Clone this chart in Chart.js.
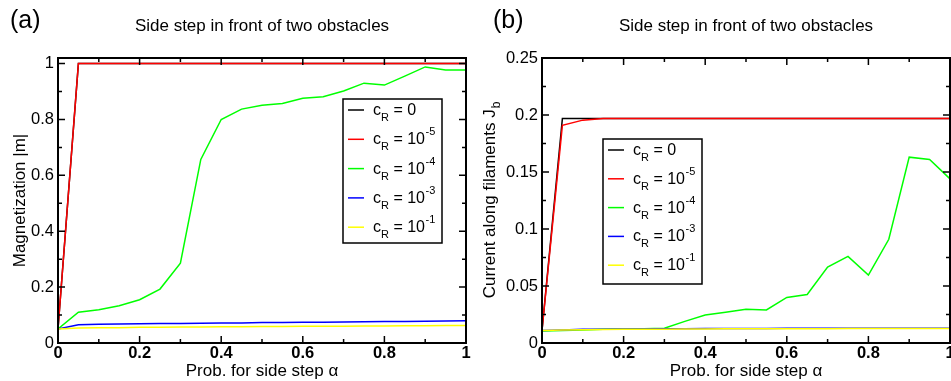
<!DOCTYPE html>
<html><head><meta charset="utf-8">
<script src="https://cdn.jsdelivr.net/npm/chart.js@4"></script>
<style>
html,body{margin:0;padding:0;background:#fff;overflow:hidden;width:951px;height:381px}
canvas{position:absolute;top:0}
</style></head><body>
<canvas id="ca" width="480" height="381" style="left:0"></canvas>
<canvas id="cb" width="480" height="381" style="left:480px"></canvas>
<script>
// ---------- data ----------
const alpha = [0,0.05,0.1,0.15,0.2,0.25,0.3,0.35,0.4,0.45,0.5,0.55,0.6,0.65,0.7,0.75,0.8,0.85,0.9,0.95,1];

// panel (a): magnetization |m|
const magC0  = [0.05,1,1,1,1,1,1,1,1,1,1,1,1,1,1,1,1,1,1,1,1];
const magC5  = [0.05,1,1,1,1,1,1,1,1,1,1,1,1,1,1,1,1,1,1,1,1];
const magC4  = [0.05,0.11,0.119,0.133,0.155,0.193,0.286,0.657,0.8,0.837,0.851,0.857,0.876,0.881,0.902,0.93,0.923,0.955,0.988,0.977,0.977];
const magC3  = [0.05,0.065,0.067,0.068,0.069,0.07,0.07,0.071,0.072,0.072,0.073,0.073,0.074,0.074,0.075,0.076,0.077,0.077,0.078,0.079,0.08];
const magC1  = [0.05,0.054,0.055,0.055,0.056,0.056,0.057,0.057,0.058,0.058,0.059,0.059,0.06,0.06,0.06,0.061,0.061,0.062,0.062,0.063,0.063];

// panel (b): current along filaments J_b
const curC0  = [0.011,0.197,0.197,0.197,0.197,0.197,0.197,0.197,0.197,0.197,0.197,0.197,0.197,0.197,0.197,0.197,0.197,0.197,0.197,0.197,0.197];
const curC5  = [0.011,0.191,0.1955,0.197,0.197,0.197,0.197,0.197,0.197,0.197,0.197,0.197,0.197,0.197,0.197,0.197,0.197,0.197,0.197,0.197,0.197];
const curC4  = [0.0105,0.011,0.0115,0.012,0.0122,0.0125,0.0129,0.019,0.0245,0.027,0.0295,0.029,0.04,0.0426,0.0666,0.076,0.0596,0.091,0.163,0.161,0.144];
const curC3  = [0.011,0.0115,0.012,0.012,0.0122,0.0123,0.0125,0.0125,0.0127,0.0127,0.0128,0.0128,0.0129,0.0129,0.013,0.013,0.013,0.013,0.013,0.013,0.013];
const curC1  = [0.011,0.0113,0.0116,0.0118,0.012,0.012,0.0121,0.0122,0.0123,0.0124,0.0124,0.0125,0.0125,0.0126,0.0126,0.0127,0.0127,0.0127,0.0128,0.0128,0.0128];

// legend labels: c_R = base^sup
const legendBase = ['0','10','10','10','10'];
const legendSup  = ['','-5','-4','-3','-1'];

// ticks
const xTickVals   = [0,0.2,0.4,0.6,0.8,1];
const xTickLabels = ['0','0.2','0.4','0.6','0.8','1'];
const xMinorVals  = [0.1,0.3,0.5,0.7,0.9];
const yTickValsA   = [0,0.2,0.4,0.6,0.8,1];
const yTickLabelsA = ['0','0.2','0.4','0.6','0.8','1'];
const yMinorValsA  = [0.1,0.3,0.5,0.7,0.9];
const yTickValsB   = [0,0.05,0.1,0.15,0.2,0.25];
const yTickLabelsB = ['0','0.05','0.1','0.15','0.2','0.25'];
const yMinorValsB  = [0.025,0.075,0.125,0.175,0.225];

// ---------- styling ----------
const FONT = '"Liberation Sans", Arial, Helvetica, sans-serif';
const colors = ['#000000','#ff0000','#00ff00','#0000ff','#ffff00'];

function mkDatasets(series) {
  return series.map((s, i) => ({
    data: alpha.map((x, j) => ({x, y: s[j]})),
    borderColor: colors[i],
    backgroundColor: colors[i],
    borderWidth: 1.5,
    pointRadius: 0,
    tension: 0,
    order: series.length - 1 - i
  }));
}

const decor = {
  id: 'decor',
  afterDraw(chart, args, o) {
    const ctx = chart.ctx, a = chart.chartArea;
    const xs = chart.scales.x, ys = chart.scales.y;
    ctx.save();
    // inward ticks on all four sides
    ctx.strokeStyle = '#000'; ctx.lineWidth = 1.5;
    const tx = (vals, len) => vals.forEach(v => {
      const p = xs.getPixelForValue(v);
      ctx.beginPath(); ctx.moveTo(p, a.bottom); ctx.lineTo(p, a.bottom - len);
      ctx.moveTo(p, a.top); ctx.lineTo(p, a.top + len); ctx.stroke();
    });
    const ty = (vals, len) => vals.forEach(v => {
      const p = ys.getPixelForValue(v);
      ctx.beginPath(); ctx.moveTo(a.left, p); ctx.lineTo(a.left + len, p);
      ctx.moveTo(a.right, p); ctx.lineTo(a.right - len, p); ctx.stroke();
    });
    tx(xTickVals, 7); tx(xMinorVals, 4);
    ty(o.yMajor, 7); ty(o.yMinor, 4);
    // frame
    ctx.lineWidth = 2;
    ctx.strokeRect(a.left, a.top, a.right - a.left, a.bottom - a.top);

    // panel letter
    ctx.fillStyle = '#000'; ctx.textBaseline = 'alphabetic'; ctx.textAlign = 'left';
    ctx.font = '25px ' + FONT;
    ctx.fillText(o.panel, o.panelX, 28);
    // title
    ctx.textAlign = 'center';
    ctx.font = '17px ' + FONT;
    const cx = (a.left + a.right) / 2;
    ctx.fillText('Side step in front of two obstacles', cx, 31);
    // x title
    ctx.fillText('Prob. for side step α', cx, 376);
    // y title (rotated, with optional subscript)
    const cy = (a.top + a.bottom) / 2;
    ctx.save();
    ctx.translate(o.yTitleX, cy);
    ctx.rotate(-Math.PI / 2);
    ctx.textAlign = 'left';
    ctx.font = '17px ' + FONT;
    const wMain = ctx.measureText(o.yTitle).width;
    let wSub = 0;
    if (o.yTitleSub) { ctx.font = '12px ' + FONT; wSub = ctx.measureText(o.yTitleSub).width; }
    let x0 = -(wMain + wSub) / 2;
    ctx.font = '17px ' + FONT;
    ctx.fillText(o.yTitle, x0, 0);
    if (o.yTitleSub) { ctx.font = '12px ' + FONT; ctx.fillText(o.yTitleSub, x0 + wMain + 1, 5); }
    ctx.restore();

    // legend
    const L = o.legend;
    ctx.fillStyle = '#fff'; ctx.fillRect(L.x, L.y, L.w, L.h);
    ctx.strokeStyle = '#000'; ctx.lineWidth = 1.5; ctx.strokeRect(L.x, L.y, L.w, L.h);
    chart.data.datasets.forEach((ds, i) => {
      const base = L.y + 16 + i * L.step;
      ctx.strokeStyle = ds.borderColor; ctx.lineWidth = 1.5;
      ctx.beginPath(); ctx.moveTo(L.x + 5, base - 5); ctx.lineTo(L.x + 21, base - 5); ctx.stroke();
      ctx.fillStyle = '#000'; ctx.textAlign = 'left'; ctx.textBaseline = 'alphabetic';
      let x = L.x + 30;
      ctx.font = '16px ' + FONT; ctx.fillText('c', x, base); x += ctx.measureText('c').width;
      ctx.font = '11px ' + FONT; ctx.fillText('R', x, base + 6); x += ctx.measureText('R').width;
      ctx.font = '16px ' + FONT; const t = ' = ' + legendBase[i]; ctx.fillText(t, x, base); x += ctx.measureText(t).width;
      if (legendSup[i]) { ctx.font = '11px ' + FONT; ctx.fillText(legendSup[i], x + 0.5, base - 9); }
    });
    ctx.restore();
  }
};

function mkChart(id, series, yMax, yVals, yLabels, yMinor, yWidth, padRight, opts) {
  return new Chart(document.getElementById(id), {
    type: 'line',
    data: { datasets: mkDatasets(series) },
    options: {
      responsive: false, animation: false, devicePixelRatio: 1,
      layout: { padding: { left: 0, right: padRight, top: 58, bottom: 0 } },
      plugins: { legend: { display: false }, tooltip: { enabled: false },
                 decor: Object.assign({ yMajor: yVals, yMinor: yMinor }, opts) },
      scales: {
        x: {
          type: 'linear', min: 0, max: 1,
          afterBuildTicks: s => { s.ticks = xTickVals.map(v => ({value: v})); },
          afterFit: s => { s.height = 38; },
          grid: { display: false, drawTicks: false }, border: { display: false },
          ticks: { padding: 1, color: '#000', maxRotation: 0, autoSkip: false,
                   font: { family: FONT, size: 16.5, weight: 'bold' },
                   callback: (v, i) => xTickLabels[i] }
        },
        y: {
          type: 'linear', min: 0, max: yMax,
          afterBuildTicks: s => { s.ticks = yVals.map(v => ({value: v})); },
          afterFit: s => { s.width = yWidth; },
          grid: { display: false, drawTicks: false }, border: { display: false },
          ticks: { padding: 4, color: '#000', autoSkip: false,
                   font: { family: FONT, size: 16.5 },
                   callback: (v, i) => yLabels[i] }
        }
      }
    },
    plugins: [decor]
  });
}

mkChart('ca', [magC0, magC5, magC4, magC3, magC1], 1.02, yTickValsA, yTickLabelsA, yMinorValsA, 58, 14, {
  panel: '(a)', panelX: 10, yTitle: 'Magnetization |m|', yTitleSub: '', yTitleX: 25,
  legend: { x: 343, y: 99, w: 99, h: 144, step: 29.3 }
});
mkChart('cb', [curC0, curC5, curC4, curC3, curC1], 0.25, yTickValsB, yTickLabelsB, yMinorValsB, 62, 10, {
  panel: '(b)', panelX: 13, yTitle: 'Current along filaments J', yTitleSub: 'b', yTitleX: 15,
  legend: { x: 123, y: 139, w: 99, h: 145, step: 28.8 }
});
</script>
</body></html>
